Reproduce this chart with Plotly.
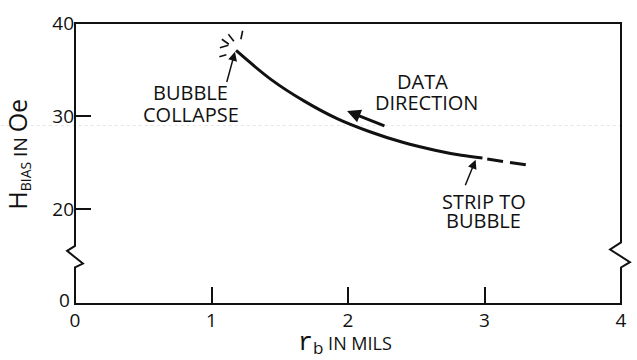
import plotly.graph_objects as go

# Bias field vs. bubble radius
r_solid = [1.18, 1.44, 1.68, 1.92, 2.16, 2.40, 2.645, 2.83, 2.985]
h_solid = [37.05, 33.89, 31.60, 29.72, 28.31, 27.18, 26.30, 25.78, 25.48]
r_dashed = [3.02, 3.31]
h_dashed = [25.38, 24.74]

x_ticks = [0, 1, 2, 3, 4]
x_tick_text = ["0", "1", "2", "3", "4"]
y_ticks = [20, 30, 40]
y_tick_text = ["20", "30", "40"]
y_break_label = "0"   # value shown at the bottom of the broken axis
y_bottom = 10

INK = "#111111"
FONT = "Open Sans"
W = 400

fig = go.Figure()
fig.add_trace(go.Scatter(x=r_solid, y=h_solid, mode="lines",
                         line=dict(color=INK, width=3, shape="spline"),
                         hoverinfo="skip", showlegend=False))
fig.add_trace(go.Scatter(x=r_dashed, y=h_dashed, mode="lines",
                         line=dict(color=INK, width=3, dash="16px,7px"),
                         hoverinfo="skip", showlegend=False))

shapes = []
# frame with broken-axis zigzags on both sides (paper coordinates)
zz = [0.207, 0.189, 0.144, 0.130]
dl = 8 / 552.0
frame_path = (
    f"M 0,1 L 1,1 L 1,{zz[0]+0.012} L {1-11/552},{zz[1]+0.005} L {1+9/552},{zz[2]+0.005} "
    f"L 1,{zz[3]} L 1,0 L 0,0 L 0,{zz[3]} L {dl},{zz[2]} L {-dl},{zz[1]} L 0,{zz[0]} Z"
)
shapes.append(dict(type="path", xref="paper", yref="paper", path=frame_path,
                   line=dict(color=INK, width=2), fillcolor="rgba(0,0,0,0)"))
# faint scan line
shapes.append(dict(type="line", xref="paper", yref="paper", x0=-0.136, x1=1.0,
                   y0=(304 - 123) / 285.0, y1=(304 - 123) / 285.0,
                   line=dict(color="#e4e4e4", width=1, dash="dot"), layer="below"))

# burst strokes around the collapse point (pixel offsets from the first point)
burst = [((6.6, 19.7), (4.8, 11.2)),
         ((-7.7, 16.2), (-2.2, 9.2)),
         ((-14.2, 11.2), (-7.2, 6.2)),
         ((-16.2, 2.7), (-7.7, 5.2)),
         ((-16.7, -6.3), (-9.7, -4.3))]
for (a, b) in burst:
    shapes.append(dict(type="line", xref="x", yref="y",
                       xsizemode="pixel", ysizemode="pixel",
                       xanchor=r_solid[0], yanchor=h_solid[0],
                       x0=a[0], y0=a[1], x1=b[0], y1=b[1],
                       line=dict(color=INK, width=1.6)))

annotations = []
# arrows
annotations.append(dict(x=1.993, y=30.54, ax=2.278, ay=28.88, xref="x", yref="y",
                        axref="x", ayref="y", text="", showarrow=True,
                        arrowhead=2, arrowsize=0.9, arrowwidth=3, arrowcolor=INK))
annotations.append(dict(x=r_solid[0] - 0.008, y=h_solid[0] - 0.15, ax=1.109, ay=33.5,
                        xref="x", yref="y", axref="x", ayref="y", text="",
                        showarrow=True, arrowhead=2, arrowsize=1.2, arrowwidth=1.5,
                        arrowcolor=INK))
annotations.append(dict(x=2.935, y=25.3, ax=2.855, ay=22.4, xref="x", yref="y",
                        axref="x", ayref="y", text="", showarrow=True,
                        arrowhead=2, arrowsize=1.2, arrowwidth=1.5, arrowcolor=INK))
# labels, one annotation per lettered line
label_font = dict(family=FONT, size=20, color=INK, weight=W)
for tx, ty, txt in [(0.848, 32.48, "BUBBLE"), (0.848, 30.15, "COLLAPSE"),
                    (2.548, 33.75, "DATA"), (2.578, 31.42, "DIRECTION"),
                    (2.993, 20.82, "STRIP TO"), (2.993, 18.75, "BUBBLE")]:
    annotations.append(dict(x=tx, y=ty, xref="x", yref="y", text=txt,
                            xanchor="center", yanchor="middle",
                            showarrow=False, font=label_font, align="center"))
# bottom label of the broken y axis
annotations.append(dict(x=0, y=y_bottom, xref="paper", yref="y", text=y_break_label,
                        xanchor="right", yanchor="middle", xshift=-3, yshift=2,
                        showarrow=False, font=dict(family=FONT, size=19, color=INK, weight=W)))
# axis titles (positions given in pixels of the plot frame)
annotations.append(dict(x=(17 - 75) / 552.0, y=(304 - 152) / 285.0,
                        xref="paper", yref="paper", textangle=-90,
                        xanchor="center", yanchor="middle",
                        text="<span style='font-size:25px'>H</span>"
                             "<sub><span style='font-size:14px'>BIAS</span></sub>"
                             " IN <span style='font-size:25px'>Oe</span>",
                        showarrow=False, font=dict(family=FONT, size=19, color=INK, weight=W)))
annotations.append(dict(x=0.4946, y=(304 - 345) / 285.0, xref="paper", yref="paper",
                        xanchor="center", yanchor="middle",
                        text="<span style='font-family:Liberation Mono;font-size:25px'>r</span>"
                             "<sub><span style='font-size:17px'>b</span></sub>"
                             " IN MILS",
                        showarrow=False, font=dict(family=FONT, size=18, color=INK, weight=W)))

fig.update_layout(
    width=637, height=360,
    margin=dict(l=75, r=10, t=19, b=56),
    paper_bgcolor="white", plot_bgcolor="white",
    shapes=shapes, annotations=annotations,
    xaxis=dict(range=[0, 4], tickvals=x_ticks, ticktext=x_tick_text,
               ticks="inside", ticklen=17, tickwidth=2, tickcolor=INK,
               ticklabelstandoff=3,
               showgrid=False, zeroline=False, showline=False,
               tickfont=dict(family=FONT, size=19, color=INK, weight=W)),
    yaxis=dict(range=[9.8, 40], tickvals=y_ticks, ticktext=y_tick_text,
               ticks="inside", ticklen=16, tickwidth=2, tickcolor=INK,
               showgrid=False, zeroline=False, showline=False,
               tickfont=dict(family=FONT, size=19, color=INK, weight=W)),
)

fig.write_html("out.html")
